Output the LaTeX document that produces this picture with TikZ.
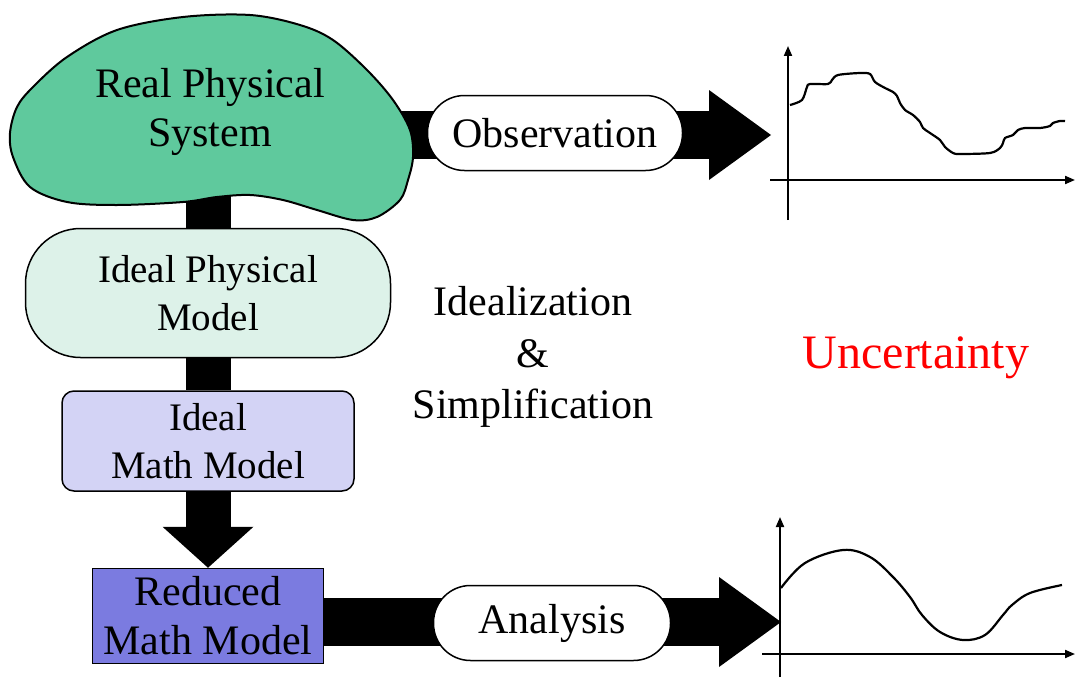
\documentclass[tikz,border=0pt]{standalone}
\usepackage{fontspec}
\setmainfont{Liberation Serif}
\usetikzlibrary{arrows.meta,backgrounds}

\definecolor{realgreen}{HTML}{5FC99D}
\definecolor{idealgreen}{HTML}{DDF2E9}
\definecolor{mathlav}{HTML}{D3D3F5}
\definecolor{reducedblue}{HTML}{7B7BE0}

\begin{document}
\begin{tikzpicture}[
  x=1pt, y=-1pt,
  big/.style={font=\fontsize{42}{49}\selectfont, align=center},
  mid/.style={font=\fontsize{39}{48}\selectfont, align=center},
  physbox/.style={draw, line width=1.5pt, rounded corners=55pt, minimum width=365pt, minimum height=129pt, fill=idealgreen, mid},
  mathbox/.style={draw, line width=1.5pt, rounded corners=12pt, minimum width=292pt, minimum height=100pt, fill=mathlav, mid},
  redbox/.style={draw, line width=1.5pt, minimum width=231pt, minimum height=95pt, inner sep=0pt, fill=reducedblue, big},
  pill/.style={draw, line width=1.5pt, rounded corners=37pt, minimum height=75pt, inner sep=0pt, fill=white, big},
  bar/.style={line width=45pt},
  fatarrow/.style={line width=48pt, -{Triangle[length=62pt, width=90pt, line width=0pt]}},
  axis/.style={line width=2pt, -{Triangle[length=10pt, width=8pt]}},
  curve/.style={line width=2.2pt}
]
\useasboundingbox (0,0) rectangle (1075,677);

% real system blob
\draw[line width=2pt, fill=realgreen] plot[smooth cycle, tension=0.55] coordinates {
  (17,107) (33,87) (67,57) (117,30) (183,17) (250,15) (300,25) (333,40)
  (367,70) (393,100) (410,130) (413,157) (408,180) (400,200) (377,217)
  (353,220) (317,210) (283,200) (250,195) (217,197) (183,202) (117,205)
  (67,202) (30,187) (13,157) (10,133)};
\node[big] (rps) at (210,112) {Real Physical\\System};

\node[physbox] (ipm) at (208,293) {Ideal Physical\\Model};
\node[mathbox] (imm) at (208,441) {Ideal\\Math Model};
\node[redbox] (rmm) at (208,616) {Reduced\\Math Model};

\node[pill, minimum width=255pt] (obs) at (555,133) {Observation};
\node[pill, minimum width=237pt] (ana) at (552,623) {Analysis};

\node[big, font=\fontsize{42}{51.5}\selectfont] (idl) at (533,357) {Idealization\\\&\\Simplification};
\node[font=\fontsize{48}{56}\selectfont, text=red] (unc) at (916,358) {Uncertainty};

\coordinate (obstip) at (771,135);
\coordinate (anatip) at (781,622);

\begin{scope}[on background layer]
  \draw[bar] (rps.center -| ipm) -- (ipm);
  \draw[bar] (ipm) -- (imm);
  \draw[bar, -{Triangle[length=41pt, width=91pt, line width=0pt]}] (imm) -- (rmm.north);
  \draw[fatarrow] (rps.east |- obstip) -- (obstip);
  \draw[fatarrow] (rmm.center |- anatip) -- (anatip);
\end{scope}

% measured signal
\draw[axis] (788,220) -- (788,46);
\draw[axis] (770,180) -- (1075,180);
\draw[curve] plot[smooth, tension=0.5] coordinates {
  (790,105) (802,100) (807,87) (810,84) (828,84) (832,80) (838,75) (860,73)
  (870,74) (875,82) (885,88) (893,92) (897,96) (900,103) (905,110) (913,115)
  (920,122) (923,128) (930,133) (940,140) (945,147) (953,153) (960,154)
  (990,153) (1000,148) (1003,143) (1005,138) (1013,135) (1018,130) (1025,128)
  (1040,128) (1050,126) (1053,123) (1060,121) (1065,121)};

% predicted response
\draw[axis] (780,677) -- (780,517);
\draw[axis] (762,654) -- (1075,654);
\draw[curve] plot[smooth, tension=0.6] coordinates {
  (781,588) (805,563) (843,550) (870,557) (893,577) (910,597) (922,615)
  (940,632) (963,640) (985,635) (1003,615) (1012,605) (1030,593) (1062,585)};
\end{tikzpicture}
\end{document}
